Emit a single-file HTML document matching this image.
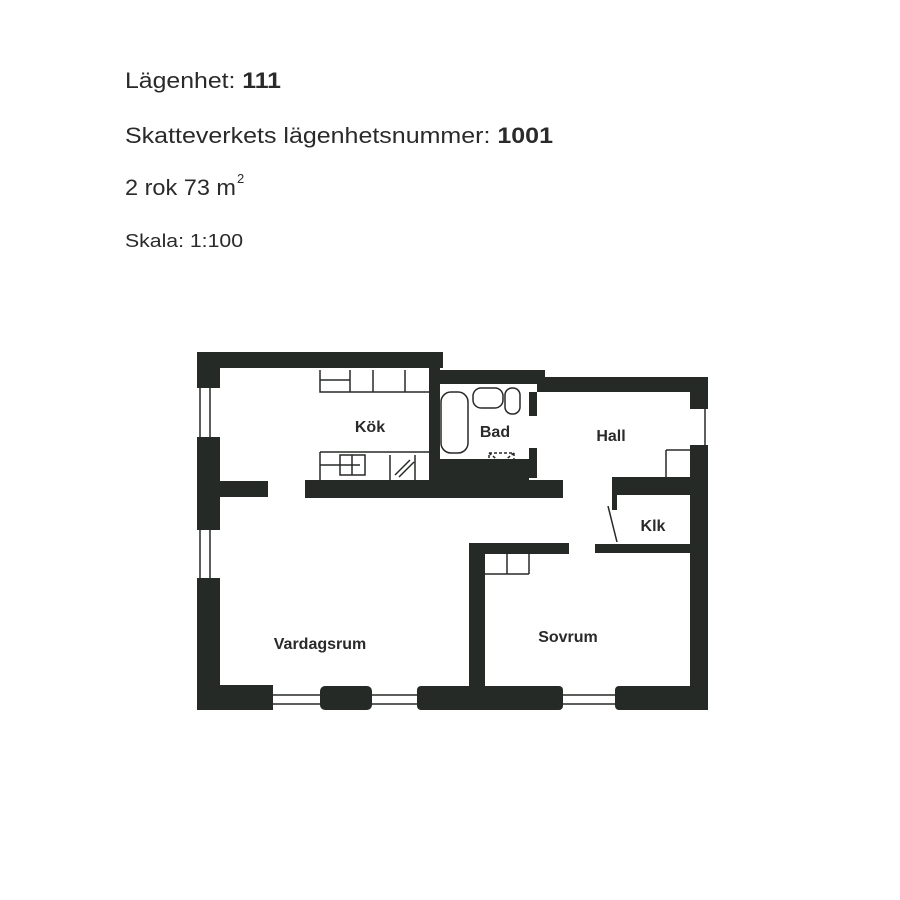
<!DOCTYPE html>
<html><head><meta charset="utf-8"><style>
html,body{margin:0;padding:0;background:#fff}
svg{display:block}
text{font-family:"Liberation Sans",sans-serif;fill:#2a2a2a}
</style></head><body>
<svg width="900" height="900" viewBox="0 0 900 900" xmlns="http://www.w3.org/2000/svg">
<rect width="900" height="900" fill="#fff"/>
<text x="125" y="88" font-size="22" textLength="156" lengthAdjust="spacingAndGlyphs">Lägenhet: <tspan font-weight="bold">111</tspan></text>
<text x="125" y="143" font-size="22" textLength="428" lengthAdjust="spacingAndGlyphs">Skatteverkets lägenhetsnummer: <tspan font-weight="bold">1001</tspan></text>
<text x="125" y="195" font-size="22" textLength="111" lengthAdjust="spacingAndGlyphs">2 rok 73 m</text>
<text x="237" y="183" font-size="13">2</text>
<text x="125" y="247" font-size="18" textLength="118" lengthAdjust="spacingAndGlyphs">Skala: 1:100</text>

<g fill="#262a26">
<rect x="197" y="352" width="246" height="16"/>
<rect x="429" y="368" width="11" height="113"/>
<rect x="435" y="370" width="110" height="14"/>
<rect x="537" y="377" width="171" height="15"/>
<rect x="690" y="377" width="18" height="32"/>
<rect x="690" y="445" width="18" height="265"/>
<rect x="197" y="352" width="23" height="36"/>
<rect x="197" y="437" width="23" height="93"/>
<rect x="197" y="578" width="23" height="132"/>
<rect x="220" y="481" width="48" height="16"/>
<rect x="305" y="480" width="258" height="18"/>
<rect x="434" y="459" width="95" height="25"/>
<rect x="529" y="392" width="8" height="24"/>
<rect x="529" y="448" width="8" height="30"/>
<rect x="197" y="685" width="76" height="25"/>
<rect x="320" y="686" width="52" height="24" rx="5"/>
<rect x="417" y="686" width="146" height="24" rx="4"/>
<rect x="615" y="686" width="93" height="24" rx="4"/>
<rect x="469" y="543" width="16" height="145"/>
<rect x="469" y="543" width="100" height="11"/>
<rect x="612" y="477" width="80" height="18"/>
<rect x="612" y="490" width="5" height="20"/>
<rect x="595" y="544" width="97" height="9"/>
</g>
<g stroke="#262a26" stroke-width="1.5" fill="none">
<line x1="200" y1="388" x2="200" y2="437"/><line x1="210" y1="388" x2="210" y2="437"/>
<line x1="200" y1="530" x2="200" y2="578"/><line x1="210" y1="530" x2="210" y2="578"/>
<line x1="273" y1="695" x2="320" y2="695"/><line x1="273" y1="704" x2="320" y2="704"/>
<line x1="372" y1="695" x2="417" y2="695"/><line x1="372" y1="704" x2="417" y2="704"/>
<line x1="563" y1="695" x2="615" y2="695"/><line x1="563" y1="704" x2="615" y2="704"/>
<line x1="705" y1="409" x2="705" y2="445"/>
<path d="M320 370 V392 H429 M320 380 H350 M350 370 V392 M373 370 V392 M405 370 V392"/>
<path d="M320 452 V480 M320 452 H429 M320 465 H360 M340 455 V475 H365 V455 Z M352 455 V475 M390 455 V480 M415 455 V480 M395 475 L410 460 M399 477 L414 462"/>
<rect x="441" y="392" width="27" height="61" rx="10"/>
<rect x="473" y="388" width="30" height="20" rx="8"/>
<rect x="505" y="388" width="15" height="26" rx="7"/>
<path d="M489 453 h25 v20 h-25 z M489 453 L514 473 M514 453 L489 473" stroke-dasharray="3 2"/>
<path d="M666 450 V477 M666 450 H690"/>
<path d="M608 506 L617 542"/>
<path d="M485 574 H529 M507 554 V574 M529 554 V574"/>
</g>
<g font-weight="bold" font-size="16" text-anchor="middle">
<text x="370" y="432">Kök</text>
<text x="495" y="437">Bad</text>
<text x="611" y="441">Hall</text>
<text x="653" y="531">Klk</text>
<text x="568" y="642">Sovrum</text>
<text x="320" y="649">Vardagsrum</text>
</g>
</svg>
</body></html>
